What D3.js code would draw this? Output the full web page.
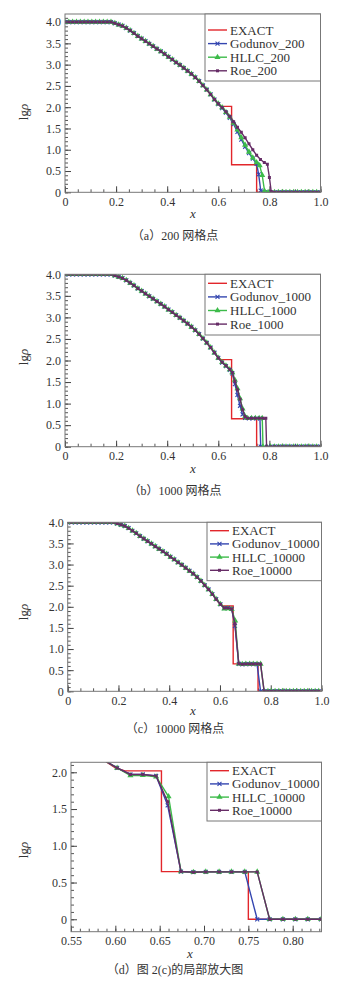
<!DOCTYPE html>
<html>
<head>
<meta charset="utf-8">
<script src="https://cdn.jsdelivr.net/npm/d3@7"></script>
<style>
body { margin: 0; background: #fff; }
svg { display: block; }
text { font-family: "Liberation Serif", "Times New Roman", serif; fill: #333; }
.cap { font-family: "Liberation Serif", "Noto Sans CJK SC", serif; font-size: 12px; }
</style>
</head>
<body>
<script>
// ---- data ----
// shared part of every curve (rarefaction, x < 0.6)
var baseX = [0, 0.015, 0.03, 0.045, 0.06, 0.075, 0.09, 0.105, 0.12, 0.135, 0.15, 0.165, 0.18,
  0.195, 0.21, 0.225, 0.24, 0.255, 0.27, 0.285, 0.30, 0.315, 0.33, 0.345, 0.36, 0.375, 0.39,
  0.405, 0.42, 0.435, 0.45, 0.465, 0.48, 0.495, 0.51, 0.525, 0.54, 0.555, 0.57, 0.585];
var baseY = [4, 4, 4, 4, 4, 4, 4, 4, 4, 4, 4, 4, 4,
  3.97, 3.94, 3.91, 3.86, 3.80, 3.74, 3.67, 3.61, 3.55, 3.49, 3.43, 3.37, 3.31, 3.25,
  3.18, 3.12, 3.05, 2.99, 2.92, 2.85, 2.78, 2.70, 2.61, 2.51, 2.41, 2.30, 2.18];

// exact solution
var exactX = [0, 0.18, 0.20, 0.22, 0.24, 0.26, 0.28, 0.30, 0.32, 0.34, 0.36, 0.38, 0.40, 0.42,
  0.44, 0.46, 0.48, 0.50, 0.52, 0.54, 0.56, 0.58, 0.60, 0.611, 0.652, 0.652, 0.750, 0.750, 1.0];
var exactY = [4, 4, 3.96, 3.92, 3.86, 3.78, 3.69, 3.61, 3.53, 3.45, 3.37, 3.29, 3.20, 3.12,
  3.03, 2.94, 2.85, 2.75, 2.64, 2.51, 2.37, 2.22, 2.06, 2.02, 2.02, 0.648, 0.648, 0, 0];

// 200 cells, x >= 0.6
var god200 = [[0.60,2.07],[0.615,1.98],[0.63,1.87],[0.645,1.75],[0.66,1.60],[0.675,1.42],[0.69,1.24],
  [0.705,1.07],[0.72,0.92],[0.735,0.79],[0.75,0.67],[0.758,0.42],[0.766,0.04],[0.78,0],[0.795,0]];
var hllc200 = [[0.60,2.08],[0.615,1.99],[0.63,1.88],[0.645,1.77],[0.66,1.63],[0.675,1.47],[0.69,1.29],
  [0.705,1.11],[0.72,0.95],[0.735,0.81],[0.75,0.70],[0.762,0.63],[0.772,0.40],[0.781,0.03],[0.795,0]];
var roe200 = [[0.60,2.08],[0.615,1.99],[0.63,1.89],[0.645,1.78],[0.66,1.66],[0.675,1.53],[0.69,1.41],
  [0.705,1.28],[0.72,1.14],[0.735,1.00],[0.75,0.87],[0.765,0.77],[0.78,0.70],[0.792,0.66],[0.80,0.35],[0.807,0.02]];

// 1000 cells, x >= 0.6
var god1000 = [[0.60,2.06],[0.615,1.95],[0.63,1.87],[0.645,1.78],[0.655,1.70],[0.665,1.45],[0.675,1.20],
  [0.685,0.95],[0.695,0.75],[0.705,0.67],[0.72,0.66],[0.735,0.66],[0.75,0.66],[0.763,0.66],[0.766,0],
  [0.78,0],[0.795,0],[0.81,0]];
var hllc1000 = [[0.60,2.06],[0.615,1.96],[0.63,1.88],[0.645,1.79],[0.655,1.72],[0.665,1.55],[0.675,1.35],
  [0.685,1.12],[0.695,0.88],[0.705,0.70],[0.715,0.66],[0.73,0.66],[0.745,0.66],[0.76,0.66],[0.772,0.66],
  [0.775,0],[0.79,0],[0.805,0]];
var roe1000 = [[0.60,2.06],[0.615,1.96],[0.63,1.88],[0.645,1.79],[0.655,1.72],[0.665,1.52],[0.675,1.32],
  [0.685,1.10],[0.695,0.86],[0.705,0.70],[0.715,0.66],[0.73,0.66],[0.745,0.66],[0.76,0.66],[0.775,0.66],
  [0.786,0.66],[0.789,0],[0.805,0]];

// 10000 cells, x >= 0.6 (panels c and d)
var god10k = [[0.602,2.06],[0.617,1.97],[0.631,1.97],[0.646,1.95],[0.659,1.55],[0.674,0.65],[0.688,0.64],
  [0.702,0.645],[0.717,0.645],[0.731,0.645],[0.746,0.645],[0.760,0],[0.774,0],[0.789,0],[0.803,0],[0.817,0],[0.832,0]];
var hllc10k = [[0.602,2.06],[0.617,1.955],[0.631,1.96],[0.646,1.94],[0.660,1.67],[0.674,0.65],[0.688,0.64],
  [0.702,0.645],[0.717,0.645],[0.731,0.645],[0.746,0.645],[0.760,0.645],[0.774,0],[0.789,0],[0.803,0],[0.817,0],[0.832,0]];
var roe10k = [[0.602,2.06],[0.617,1.97],[0.631,1.97],[0.646,1.95],[0.659,1.60],[0.674,0.65],[0.688,0.64],
  [0.702,0.645],[0.717,0.645],[0.731,0.645],[0.746,0.645],[0.760,0.645],[0.774,0],[0.789,0],[0.803,0],[0.817,0],[0.832,0]];

// zero state ahead of the shock
var zeroX = [0.82, 0.835, 0.85, 0.865, 0.88, 0.895, 0.91, 0.925, 0.94, 0.955, 0.97, 0.985, 1.0];
var zeroX10k = [0.846, 0.861, 0.875, 0.889, 0.903, 0.918, 0.932, 0.946, 0.961, 0.975, 0.989];

// ticks and labels
var xTicks = [0, 0.2, 0.4, 0.6, 0.8, 1.0];
var yTicks = [0, 0.5, 1.0, 1.5, 2.0, 2.5, 3.0, 3.5, 4.0];
var dxTicks = [0.55, 0.60, 0.65, 0.70, 0.75, 0.80];
var dyTicks = [0, 0.5, 1.0, 1.5, 2.0];
var schemes = ["Godunov", "HLLC", "Roe"];
var captions = ["（a）200 网格点", "（b）1000 网格点", "（c）10000 网格点", "（d）图 2(c)的局部放大图"];

// ---- drawing ----
var width = 349, height = 989;
var colors = { exact: "#e2262b", god: "#3446b0", hllc: "#3dbb4a", roe: "#662c66" };

var svg = d3.select("body").append("svg")
    .attr("width", width)
    .attr("height", height);

function build(tail, zeros) {
  var pts = d3.zip(baseX, baseY).concat(tail);
  return pts.concat(zeros.map(function(x) { return [x, 0]; }));
}
var exact = d3.zip(exactX, exactY);

var panels = [
  { left: 65, right: 320.5, top: 14, bottom: 192.3, xd: [0, 1], yd: [0, 4.19],
    xt: xTicks, xm: 0.05, yt: yTicks, ym: 0.1, xf: function(d) { return d === 0 ? "0" : d.toFixed(1); },
    series: [build(god200, zeroX), build(hllc200, zeroX), build(roe200, zeroX)], n: "200",
    leg: { x0: 205, y0: 14, y1: 81, r0: 30, dr: 13.6 }, cap: captions[0], capY: 240, ylabY: 112, xlabY: 218 },
  { left: 65, right: 320.5, top: 274.3, bottom: 446.7, xd: [0, 1], yd: [0, 4],
    xt: xTicks, xm: 0.05, yt: yTicks, ym: 0.1, xf: function(d) { return d === 0 ? "0" : d.toFixed(1); },
    series: [build(god1000, zeroX), build(hllc1000, zeroX), build(roe1000, zeroX)], n: "1000",
    leg: { x0: 205, y0: 274.3, y1: 335, r0: 283.3, dr: 13.6 }, cap: captions[1], capY: 495, ylabY: 357, xlabY: 473 },
  { left: 67.7, right: 321.5, top: 522.3, bottom: 691.3, xd: [0, 1], yd: [0, 4],
    xt: xTicks, xm: 0.05, yt: yTicks, ym: 0.1, xf: function(d) { return d === 0 ? "0" : d.toFixed(1); },
    series: [build(god10k, zeroX10k), build(hllc10k, zeroX10k), build(roe10k, zeroX10k)], n: "10000",
    leg: { x0: 207, y0: 522.3, y1: 580.7, r0: 530.7, dr: 13.2 }, cap: captions[2], capY: 733, ylabY: 612, xlabY: 715 },
  { left: 71, right: 321.5, top: 762.3, bottom: 931.7, xd: [0.55, 0.8325], yd: [-0.169, 2.136],
    xt: dxTicks, xm: 0.01, yt: dyTicks, ym: 0.1, xf: function(d) { return d.toFixed(2); },
    series: [build(god10k, zeroX10k), build(hllc10k, zeroX10k), build(roe10k, zeroX10k)], n: "10000",
    leg: { x0: 207, y0: 762.3, y1: 821, r0: 770.7, dr: 13.2 }, cap: captions[3], capY: 974, ylabY: 850, xlabY: 958, xlabX: 190 }
];

var keys = ["god", "hllc", "roe"];
var symbols = { god: d3.symbolX, hllc: d3.symbolTriangle, roe: d3.symbolSquare };
var symSize = { god: 12, hllc: 16, roe: 9 };

function marker(g, key, x, y) {
  var p = g.append("path")
      .attr("d", d3.symbol().type(symbols[key]).size(symSize[key])())
      .attr("transform", "translate(" + x + "," + y + ")");
  if (key === "god") p.attr("fill", "none").attr("stroke", colors.god).attr("stroke-width", 1.1);
  else p.attr("fill", colors[key]);
}

panels.forEach(function(p, i) {
  var x = d3.scaleLinear().domain(p.xd).range([p.left, p.right]);
  var y = d3.scaleLinear().domain(p.yd).range([p.bottom, p.top]);
  var g = svg.append("g");

  var clipId = "clip" + i;
  g.append("clipPath").attr("id", clipId)
    .append("rect")
    .attr("x", p.left).attr("y", p.top)
    .attr("width", p.right - p.left).attr("height", p.bottom - p.top);

  // minor ticks
  var xMinor = d3.range(p.xd[0], p.xd[1] + 1e-9, p.xm).filter(function(v) { return v <= p.xd[1]; });
  var yMinor = d3.range(Math.ceil(p.yd[0] / p.ym) * p.ym, p.yd[1], p.ym);
  g.append("g").attr("transform", "translate(0," + p.bottom + ")")
    .call(d3.axisBottom(x).tickValues(xMinor).tickSize(-3).tickFormat(""))
    .call(function(s) { s.select(".domain").remove(); s.selectAll("line").attr("stroke", "#555"); });
  g.append("g").attr("transform", "translate(" + p.left + ",0)")
    .call(d3.axisLeft(y).tickValues(yMinor).tickSize(-3).tickFormat(""))
    .call(function(s) { s.select(".domain").remove(); s.selectAll("line").attr("stroke", "#555"); });

  // major ticks + labels
  g.append("g").attr("transform", "translate(0," + p.bottom + ")")
    .call(d3.axisBottom(x).tickValues(p.xt).tickSize(-6).tickPadding(5).tickFormat(p.xf))
    .call(function(s) {
      s.select(".domain").remove();
      s.selectAll("line").attr("stroke", "#444");
      s.selectAll("text").attr("font-size", 12).attr("font-family", "Liberation Serif").attr("fill", "#333");
    });
  g.append("g").attr("transform", "translate(" + p.left + ",0)")
    .call(d3.axisLeft(y).tickValues(p.yt).tickSize(-6).tickPadding(4)
      .tickFormat(function(d) { return d === 0 ? "0" : d.toFixed(1); }))
    .call(function(s) {
      s.select(".domain").remove();
      s.selectAll("line").attr("stroke", "#444");
      s.selectAll("text").attr("font-size", 12).attr("font-family", "Liberation Serif").attr("fill", "#333");
    });

  // curves
  var line = d3.line().x(function(d) { return x(d[0]); }).y(function(d) { return y(d[1]); });
  var plot = g.append("g").attr("clip-path", "url(#" + clipId + ")");
  plot.append("path").datum(exact)
    .attr("d", line).attr("fill", "none")
    .attr("stroke", colors.exact).attr("stroke-width", 1.4);

  p.series.forEach(function(s, k) {
    var key = keys[k];
    plot.append("path").datum(s)
      .attr("d", line).attr("fill", "none")
      .attr("stroke", colors[key]).attr("stroke-width", 1.4);
    s.forEach(function(d) {
      if (d[0] >= p.xd[0] - 0.01 && d[0] <= p.xd[1] + 0.01) marker(plot, key, x(d[0]), y(d[1]));
    });
  });

  // frame
  g.append("rect")
    .attr("x", p.left).attr("y", p.top)
    .attr("width", p.right - p.left).attr("height", p.bottom - p.top)
    .attr("fill", "none").attr("stroke", "#777").attr("stroke-width", 1);

  // legend
  var L = p.leg;
  g.append("rect")
    .attr("x", L.x0).attr("y", L.y0)
    .attr("width", p.right - L.x0).attr("height", L.y1 - L.y0)
    .attr("fill", "#fff").attr("stroke", "#777").attr("stroke-width", 1);
  var names = ["EXACT"].concat(schemes.map(function(s) { return s + "_" + p.n; }));
  var lkeys = ["exact"].concat(keys);
  names.forEach(function(nm, k) {
    var ry = L.r0 + k * L.dr;
    g.append("line")
      .attr("x1", L.x0 + 3).attr("x2", L.x0 + 22)
      .attr("y1", ry).attr("y2", ry)
      .attr("stroke", colors[lkeys[k]]).attr("stroke-width", 1.4);
    if (k > 0) marker(g, lkeys[k], L.x0 + 12.5, ry);
    g.append("text")
      .attr("x", L.x0 + 25).attr("y", ry)
      .attr("dy", "0.35em")
      .attr("font-size", 13)
      .text(nm);
  });

  // axis titles
  var yl = g.append("text")
    .attr("transform", "translate(28," + p.ylabY + ") rotate(-90)")
    .attr("text-anchor", "middle")
    .attr("font-size", 13);
  yl.append("tspan").text("lg");
  yl.append("tspan").attr("font-style", "italic").text("ρ");

  g.append("text")
    .attr("x", p.xlabX || 193)
    .attr("y", p.xlabY)
    .attr("text-anchor", "middle")
    .attr("font-size", 13)
    .attr("font-style", "italic")
    .text("x");

  g.append("text")
    .attr("class", "cap")
    .attr("x", 175)
    .attr("y", p.capY)
    .attr("text-anchor", "middle")
    .text(p.cap);
});
</script>
</body>
</html>
